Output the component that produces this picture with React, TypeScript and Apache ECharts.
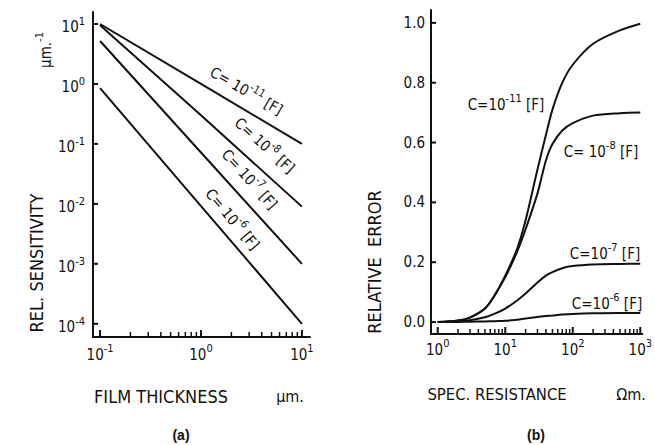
import React, { useEffect, useRef } from "react";
import * as echarts from "echarts";

// ---- data (a): relative sensitivity vs film thickness (log-log) ----
const thicknessX = [0.1, 1, 10];
const sensC11 = [10, 1, 0.1];
const sensC8 = [9.5, 0.3, 0.009];
const sensC7 = [5.2, 0.072, 0.001];
const sensC6 = [0.85, 0.0092, 0.0001];
const sensTickExp = [-4, -3, -2, -1, 0, 1];
const thickTickExp = [-1, 0, 1];

// ---- data (b): relative error vs specific resistance ----
const resistX = [1, 2, 3, 5, 7, 10, 15, 20, 30, 40, 50, 70, 100, 200, 500, 1000];
const errC11 = [0, 0.005, 0.015, 0.045, 0.09, 0.155, 0.245, 0.34, 0.51, 0.625, 0.71, 0.8, 0.86, 0.93, 0.975, 0.997];
const errC8 = [0, 0.005, 0.015, 0.045, 0.09, 0.15, 0.235, 0.31, 0.43, 0.54, 0.595, 0.64, 0.665, 0.69, 0.698, 0.7];
const errC7 = [0, 0.002, 0.006, 0.016, 0.028, 0.045, 0.072, 0.095, 0.132, 0.155, 0.167, 0.18, 0.187, 0.192, 0.194, 0.195];
const errC6 = [0, 0.0005, 0.001, 0.002, 0.003, 0.004, 0.008, 0.012, 0.017, 0.02, 0.022, 0.025, 0.027, 0.029, 0.03, 0.03];
const errTicks = [0, 0.2, 0.4, 0.6, 0.8, 1.0];
const resistTickExp = [0, 1, 2, 3];

const FONT = "'DejaVu Sans Condensed', 'Liberation Sans Narrow', sans-serif";

// axis extents (exponent space for the log axes)
const A_XMIN = -1.07, A_XMAX = 1.08, A_YMIN = -4.22, A_YMAX = 1.2;
const B_XMIN = -0.1, B_XMAX = 3.03, B_YMIN = -0.04, B_YMAX = 1.043;

function minorLogTicks(from: number, to: number): number[] {
  const out: number[] = [];
  for (let n = from; n < to; n++) {
    for (let k = 2; k <= 9; k++) out.push(n + Math.log10(k));
  }
  return out;
}

const supRich = {
  b: { fontSize: 15, lineHeight: 16, padding: [7, 0, 0, 0], fontFamily: FONT, color: "#111" },
  s: { fontSize: 11, lineHeight: 12, verticalAlign: "top", fontFamily: FONT, color: "#111" },
};

const powLabel = (v: number) => `{b|10}{s|${Math.round(v)}}`;

function cLabel(exp: string, gap = " ") {
  return `{b|C=${gap}10}{s|${exp}}{b| [F]}`;
}

export default function App() {
  const ref = useRef<HTMLDivElement>(null);
  useEffect(() => {
    document.body.style.margin = "0";
    const chart = echarts.init(ref.current!, undefined, { renderer: "svg" });
    const lineStyle = { color: "#111", width: 2 };
    const axisLine = { show: true, onZero: false, lineStyle: { color: "#111", width: 2 } };
    const logPts = (xs: number[], ys: number[]) => xs.map((x, i) => [Math.log10(x), Math.log10(ys[i])]);
    const semiPts = (xs: number[], ys: number[]) => xs.map((x, i) => [Math.log10(x), ys[i]]);

    // tick marks drawn through the axes' own scales (custom series)
    const tickSeries = (xi: number, yi: number, pts: number[][], dx: number, dy: number, w: number) => ({
      type: "custom",
      xAxisIndex: xi,
      yAxisIndex: yi,
      clip: false,
      data: pts,
      renderItem: (_p: any, api: any) => {
        const c = api.coord([api.value(0), api.value(1)]);
        return {
          type: "line",
          shape: { x1: c[0], y1: c[1], x2: c[0] + dx, y2: c[1] + dy },
          style: { stroke: "#111", lineWidth: w },
        };
      },
    });

    const rad = (d: number) => (d * Math.PI) / 180;
    const txt = (x: number, y: number, text: string, opts: any = {}) => ({
      type: "text",
      x,
      y,
      rotation: opts.rotation || 0,
      style: {
        text,
        fontSize: opts.fontSize || 15,
        fontFamily: opts.fontFamily || FONT,
        fontWeight: opts.fontWeight || "normal",
        fill: "#111",
        align: "center",
        verticalAlign: "middle",
        rich: supRich,
      },
    });

    chart.setOption({
      animation: false,
      backgroundColor: "#fff",
      grid: [
        { left: 93, top: 12, width: 217, height: 325 },
        { left: 431, top: 10, width: 214, height: 324 },
      ],
      xAxis: [
        {
          type: "value", gridIndex: 0, min: A_XMIN, max: A_XMAX,
          axisLine,
          axisTick: { show: false },
          axisLabel: { show: true, customValues: thickTickExp, formatter: powLabel, rich: supRich, margin: 6 },
          splitLine: { show: false },
        },
        {
          type: "value", gridIndex: 1, min: B_XMIN, max: B_XMAX,
          axisLine,
          axisTick: { show: false },
          axisLabel: { show: true, customValues: resistTickExp, formatter: powLabel, rich: supRich, margin: 4 },
          splitLine: { show: false },
        },
      ],
      yAxis: [
        {
          type: "value", gridIndex: 0, min: A_YMIN, max: A_YMAX,
          axisLine,
          axisTick: { show: false },
          axisLabel: { show: true, customValues: sensTickExp, formatter: powLabel, rich: supRich, margin: 8 },
          splitLine: { show: false },
        },
        {
          type: "value", gridIndex: 1, min: B_YMIN, max: B_YMAX,
          axisLine,
          axisTick: { show: false },
          axisLabel: {
            show: true, customValues: errTicks, formatter: (v: number) => v.toFixed(1),
            fontSize: 15, fontFamily: FONT, color: "#111", margin: 6,
          },
          splitLine: { show: false },
        },
      ],
      series: [
        { type: "line", xAxisIndex: 0, yAxisIndex: 0, data: logPts(thicknessX, sensC11), showSymbol: false, lineStyle },
        { type: "line", xAxisIndex: 0, yAxisIndex: 0, data: logPts(thicknessX, sensC8), showSymbol: false, lineStyle },
        { type: "line", xAxisIndex: 0, yAxisIndex: 0, data: logPts(thicknessX, sensC7), showSymbol: false, lineStyle },
        { type: "line", xAxisIndex: 0, yAxisIndex: 0, data: logPts(thicknessX, sensC6), showSymbol: false, lineStyle },
        { type: "line", xAxisIndex: 1, yAxisIndex: 1, data: semiPts(resistX, errC11), smooth: 0.3, showSymbol: false, lineStyle },
        { type: "line", xAxisIndex: 1, yAxisIndex: 1, data: semiPts(resistX, errC8), smooth: 0.3, showSymbol: false, lineStyle },
        { type: "line", xAxisIndex: 1, yAxisIndex: 1, data: semiPts(resistX, errC7), smooth: 0.3, showSymbol: false, lineStyle },
        { type: "line", xAxisIndex: 1, yAxisIndex: 1, data: semiPts(resistX, errC6), smooth: 0.3, showSymbol: false, lineStyle },
        // ticks panel (a)
        tickSeries(0, 0, thickTickExp.map((v) => [v, A_YMIN]), 0, -7, 2),
        tickSeries(0, 0, minorLogTicks(-1, 1).map((v) => [v, A_YMIN]), 0, -5, 1.5),
        tickSeries(0, 0, sensTickExp.map((v) => [A_XMIN, v]), 5, 0, 2),
        // ticks panel (b)
        tickSeries(1, 1, resistTickExp.map((v) => [v, B_YMIN]), 0, -7, 2),
        tickSeries(1, 1, minorLogTicks(0, 3).map((v) => [v, B_YMIN]), 0, -5, 1.5),
        tickSeries(1, 1, errTicks.map((v) => [B_XMIN, v]), 5, 0, 2),
      ],
      graphic: [
        // panel (a) annotations
        txt(248, 88, cLabel("-11"), { rotation: rad(-30) }),
        txt(267, 143, cLabel("-8"), { rotation: rad(-42) }),
        txt(252, 177, cLabel("-7"), { rotation: rad(-48) }),
        txt(235, 217, cLabel("-6"), { rotation: rad(-50) }),
        // panel (b) annotations
        txt(506, 101, cLabel("-11", "")),
        txt(601, 148, cLabel("-8")),
        txt(605, 250, cLabel("-7", "")),
        txt(607, 300, cLabel("-6", "")),
        // axis names
        txt(36, 263, "REL. SENSITIVITY", { rotation: rad(90), fontSize: 18 }),
        txt(42, 50, "{b|µm.}{s|-1}", { rotation: rad(90) }),
        txt(161, 396, "FILM THICKNESS", { fontSize: 18 }),
        txt(290, 396, "µm.", { fontSize: 16 }),
        txt(374, 262, "RELATIVE  ERROR", { rotation: rad(90), fontSize: 18 }),
        txt(497, 394, "SPEC. RESISTANCE", { fontSize: 16.5 }),
        txt(631, 394, "Ωm.", { fontSize: 16 }),
        txt(181, 435, "(a)", { fontSize: 14, fontWeight: "bold", fontFamily: "'Liberation Sans', Arial, sans-serif" }),
        txt(536, 435, "(b)", { fontSize: 14, fontWeight: "bold", fontFamily: "'Liberation Sans', Arial, sans-serif" }),
      ],
    });
    return () => chart.dispose();
  }, []);
  return <div ref={ref} style={{ position: "fixed", left: 0, top: 0, width: 655, height: 445 }} />;
}
